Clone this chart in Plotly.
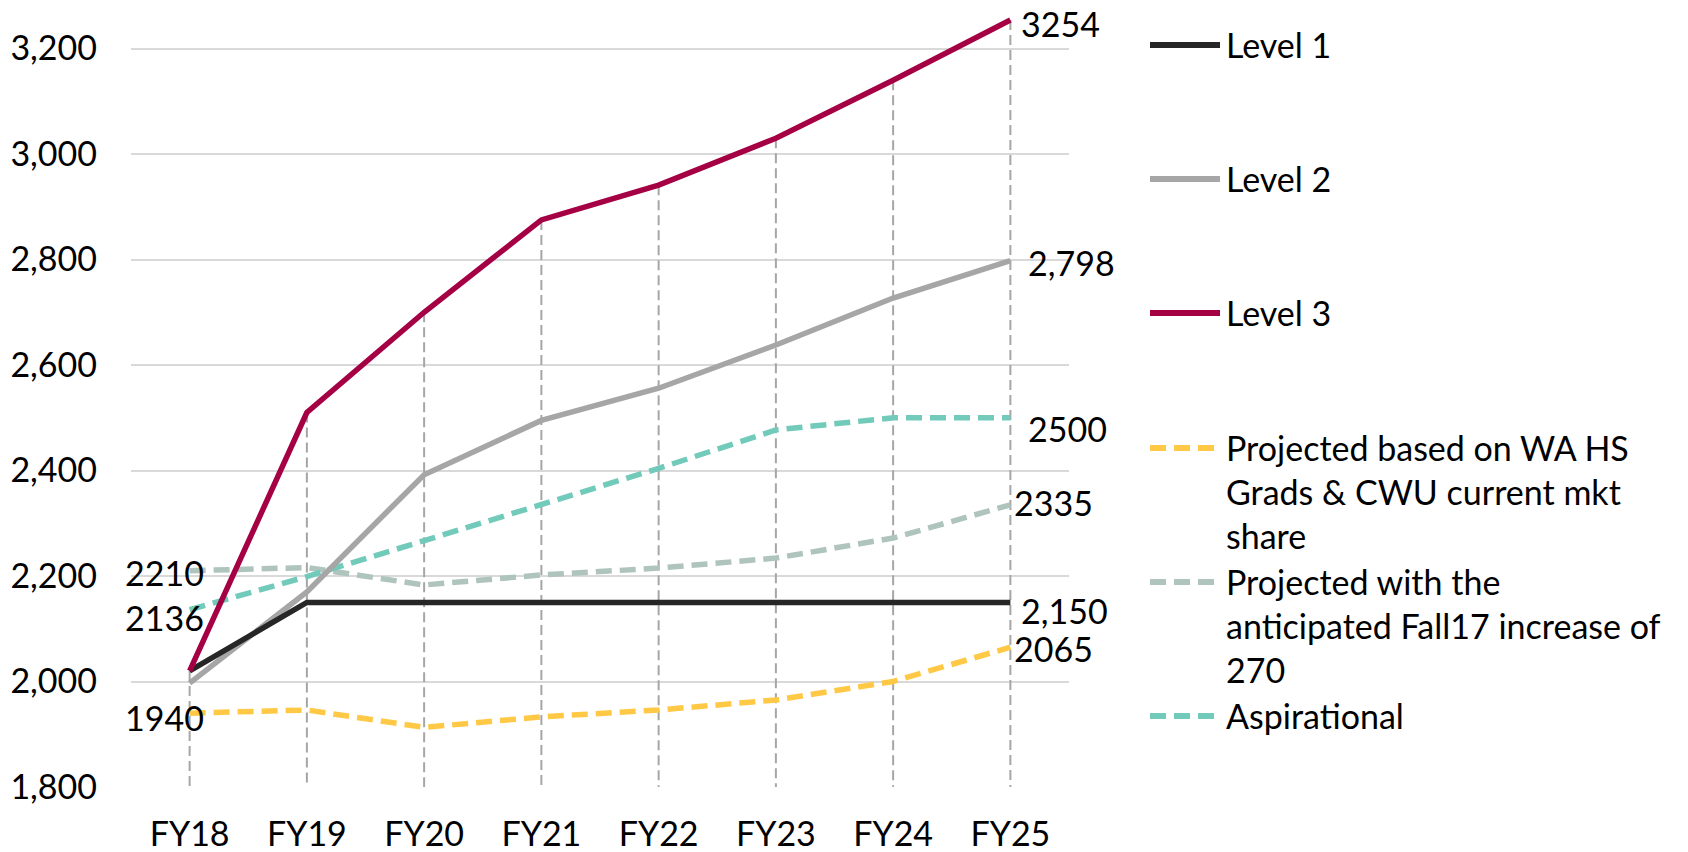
import plotly.graph_objects as go

# ---------------- data ----------------
categories = ["FY18", "FY19", "FY20", "FY21", "FY22", "FY23", "FY24", "FY25"]
level1 = [2020, 2150, 2150, 2150, 2150, 2150, 2150, 2150]
level2 = [1997, 2170, 2392, 2495, 2556, 2638, 2727, 2798]
level3 = [2020, 2510, 2700, 2875, 2941, 3030, 3140, 3254]
projected_hs = [1940, 1946, 1913, 1933, 1946, 1965, 2000, 2065]
projected_fall17 = [2210, 2216, 2183, 2202, 2215, 2234, 2272, 2335]
aspirational = [2136, 2199, 2267, 2335, 2404, 2477, 2500, 2500]
y_ticks = [1800, 2000, 2200, 2400, 2600, 2800, 3000, 3200]

series_names = [
    "Level 1",
    "Level 2",
    "Level 3",
    "Projected based on WA HS<br>Grads & CWU current mkt<br>share",
    "Projected with the<br>anticipated Fall17 increase of<br>270",
    "Aspirational",
]

FONT = "Lato"
FS = 34

W, H = 1688, 852
ML, MR, MT, MB = 131, 619, 0, 65
PW, PH = W - ML - MR, H - MT - MB
Y_MIN, Y_MAX = 1800, 3292

fig = go.Figure()

# drop lines from Level 3 down to axis
dx, dy = [], []
for c, v in zip(categories, level3):
    dx += [c, c, None]
    dy += [v, Y_MIN, None]
fig.add_trace(go.Scatter(x=dx, y=dy, mode="lines", showlegend=False, hoverinfo="skip",
                         line=dict(color="#A6A6A6", width=2, dash="10px,5px")))

DASH = "16px,8px"
styles = [
    (level1, "#262626", "solid", 5.5),
    (level2, "#A6A6A6", "solid", 5.5),
    (level3, "#A50044", "solid", 5.5),
    (projected_hs, "#FFC845", DASH, 5.5),
    (projected_fall17, "#AFC4BC", DASH, 5.5),
    (aspirational, "#71CABA", DASH, 5.5),
]
order = [3, 4, 5, 1, 0, 2]
for i in order:
    vals, col, dash, w = styles[i]
    fig.add_trace(go.Scatter(x=categories, y=vals, mode="lines", name=series_names[i],
                             showlegend=False,
                             line=dict(color=col, width=w, dash=dash)))

# data labels
def lab(series, idx, text, anchor, xs, ys):
    fig.add_annotation(x=categories[idx], y=series[idx], xref="x", yref="y",
                       text=text, showarrow=False, xanchor=anchor, yanchor="middle",
                       xshift=xs, yshift=ys, font=dict(family=FONT, size=FS, color="#000000"))

lab(level3, 7, f"{level3[7]}", "left", 9, -3)
lab(level2, 7, f"{level2[7]:,}", "left", 16, -2)
lab(aspirational, 7, f"{aspirational[7]}", "left", 16, -11)
lab(projected_fall17, 7, f"{projected_fall17[7]}", "left", 2, 2)
lab(level1, 7, f"{level1[7]:,}", "left", 9, -8)
lab(projected_hs, 7, f"{projected_hs[7]}", "left", 2, -1)
lab(projected_fall17, 0, f"{projected_fall17[0]}", "right", 16, -2)
lab(aspirational, 0, f"{aspirational[0]}", "right", 16, -8)
lab(projected_hs, 0, f"{projected_hs[0]}", "right", 16, -4)

# manual legend (page pixel positions converted to paper coords)
def px_x(p):
    return (p - ML) / PW

def px_y(p):
    return (H - MB - p) / PH

legend_y = [45, 179, 313, 448, 582, 716]
for i, yy in enumerate(legend_y):
    vals, col, dash, w = styles[i]
    fig.add_shape(type="line", xref="paper", yref="paper",
                  x0=px_x(1150), x1=px_x(1220), y0=px_y(yy), y1=px_y(yy),
                  line=dict(color=col, width=w + 0.5, dash=dash))
    fig.add_annotation(xref="paper", yref="paper", x=px_x(1224), y=px_y(yy - 23),
                       text=series_names[i], showarrow=False, xanchor="left", yanchor="top",
                       align="left", font=dict(family=FONT, size=FS, color="#000000"))

fig.update_layout(
    width=W, height=H, autosize=False,
    margin=dict(l=ML, r=MR, t=MT, b=MB),
    paper_bgcolor="white", plot_bgcolor="white",
    showlegend=False,
    font=dict(family=FONT, size=FS, color="#000000"),
    xaxis=dict(type="category", range=[-0.5, 7.5], showgrid=False, zeroline=False,
               showline=False, ticks="", ticklabelstandoff=24,
               tickfont=dict(family=FONT, size=FS, color="#000000")),
    yaxis=dict(range=[Y_MIN, Y_MAX], tickvals=y_ticks, tickformat=",d",
               showgrid=True, gridcolor="#D9D9D9", gridwidth=2, zeroline=False,
               showline=False, ticks="", ticklabelstandoff=33,
               tickfont=dict(family=FONT, size=FS, color="#000000")),
)

fig.write_html("out.html", config={"displayModeBar": False},
               post_script="document.body.style.margin='0';")
